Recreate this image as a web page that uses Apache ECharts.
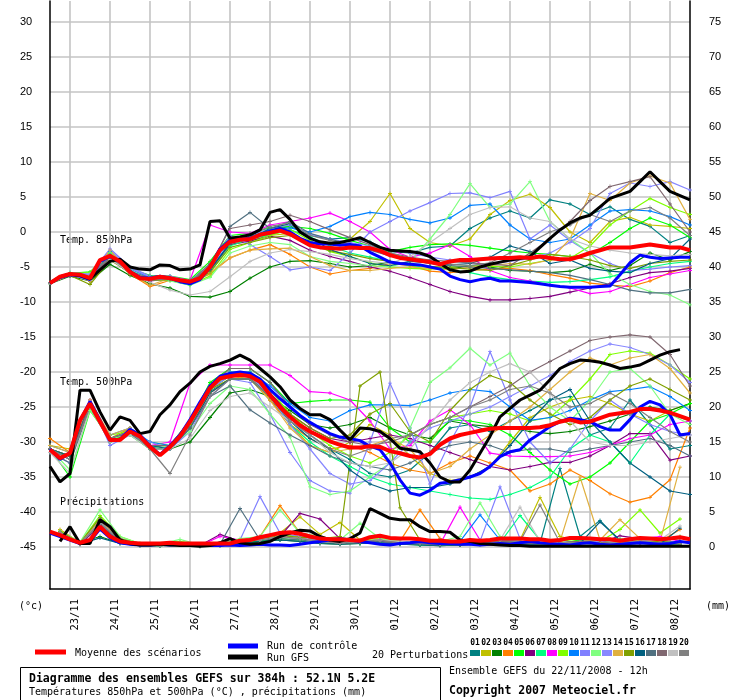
<!DOCTYPE html>
<html><head><meta charset="utf-8">
<script src="https://cdn.jsdelivr.net/npm/echarts@6/dist/echarts.min.js"></script>
<style>html,body{margin:0;padding:0;background:#fff}#c{width:740px;height:700px}</style>
</head><body><div id="c"></div>
<script>
// ---- axis / tick data ----
const DAY_TICKS = [12,36,60,84,108,132,156,180,204,228,252,276,300,324,348,372];
const DAY_LABELS = ['23/11','24/11','25/11','26/11','27/11','28/11','29/11','30/11','01/12','02/12','03/12','04/12','05/12','06/12','07/12','08/12'];
const T_TICKS = [-45,-40,-35,-30,-25,-20,-15,-10,-5,0,5,10,15,20,25,30];
const P_TICKS = [0,5,10,15,20,25,30,35,40,45,50,55,60,65,70,75];
const PERT_NAMES = ['01','02','03','04','05','06','07','08','09','10','11','12','13','14','15','16','17','18','19','20'];
const PERT_COLORS = ['#008080','#c0c000','#008000','#ff8000','#00ff00','#800080','#00ff80','#ff00ff','#80ff00','#0080ff','#8080ff','#80ff80','#8888ff','#e0b040','#80a000','#006080','#507080','#806870','#c0c0c0','#808080'];

// ---- 6-hourly series (hour 0..384) ----
const MEAN_850 = [-7.3,-6.4,-6.0,-6.1,-6.6,-4.0,-3.4,-4.2,-5.7,-6.6,-6.7,-6.4,-6.6,-6.9,-7.1,-6.6,-5.0,-2.6,-1.4,-1.1,-1.0,-0.4,-0.1,0.2,-0.3,-1.1,-1.9,-2.2,-2.3,-2.4,-2.2,-2.3,-2.3,-2.7,-3.3,-3.7,-3.9,-4.1,-4.3,-4.6,-4.2,-4.0,-4.0,-3.9,-3.8,-3.7,-3.7,-3.6,-3.7,-3.5,-3.7,-3.9,-3.9,-3.5,-3.0,-2.6,-2.2,-2.2,-2.2,-2.0,-1.8,-2.0,-2.2,-2.2,-2.6];
const GFS_850 = [-7.3,-6.4,-6.0,-6.2,-6.7,-5.4,-4.2,-3.9,-5.0,-5.3,-5.4,-4.7,-4.8,-5.4,-5.3,-4.7,1.5,1.6,-0.9,-0.7,-0.4,0.3,2.8,3.2,1.8,0.0,-0.9,-1.4,-1.6,-1.5,-1.2,-0.8,-1.5,-2.2,-2.6,-2.7,-2.8,-3.0,-3.5,-4.5,-5.4,-5.7,-5.6,-5.0,-4.6,-4.3,-4.0,-3.8,-3.5,-2.2,-0.9,0.3,1.3,2.0,2.4,3.6,4.8,5.3,5.8,7.2,8.6,7.2,5.8,5.2,4.6];
const CTRL_850 = [-7.3,-6.5,-6.1,-6.3,-6.8,-4.2,-3.5,-4.2,-5.6,-6.5,-6.6,-6.3,-6.6,-7.1,-7.4,-6.8,-5.0,-2.4,-1.2,-1.0,-0.9,-0.4,0.1,0.5,0.0,-0.9,-1.5,-1.7,-1.7,-1.9,-1.8,-2.0,-2.9,-3.6,-4.3,-4.5,-4.6,-4.7,-5.0,-5.3,-6.3,-6.8,-7.1,-6.8,-6.6,-7.0,-7.0,-7.1,-7.2,-7.4,-7.6,-7.8,-7.9,-7.9,-7.9,-7.8,-7.7,-6.1,-4.4,-3.3,-3.6,-3.8,-3.7,-3.6,-3.6];

const MEAN_500 = [-31.1,-32.3,-31.6,-26.9,-24.5,-27.1,-29.7,-29.7,-28.5,-29.2,-30.7,-31.9,-30.7,-29.2,-27.1,-24.7,-22.3,-20.9,-20.6,-20.4,-20.6,-21.4,-23.3,-25.0,-26.4,-27.6,-28.5,-29.2,-29.9,-30.4,-30.8,-30.8,-30.6,-30.7,-31.3,-31.6,-32.0,-32.2,-31.7,-30.4,-29.5,-29.0,-28.7,-28.4,-28.1,-28.0,-28.0,-28.0,-28.0,-27.9,-27.6,-27.1,-26.8,-27.2,-27.1,-26.6,-26.1,-25.9,-25.7,-25.3,-25.3,-25.5,-25.8,-26.3,-26.8];
const GFS_500 = [-33.5,-35.7,-34.5,-22.6,-22.6,-25.7,-28.3,-26.4,-26.9,-28.8,-28.5,-26.1,-24.7,-22.8,-21.6,-20.0,-19.2,-18.8,-18.3,-17.6,-18.3,-19.5,-20.7,-22.1,-24.0,-25.2,-26.1,-26.1,-26.8,-28.3,-29.7,-28.0,-28.1,-28.5,-29.5,-30.9,-31.1,-31.4,-33.0,-35.0,-35.7,-35.7,-34.0,-31.6,-29.2,-26.4,-25.2,-24.0,-23.3,-22.6,-21.1,-19.5,-18.8,-18.3,-18.4,-18.6,-19.0,-19.5,-19.3,-19.0,-18.3,-17.6,-17.1,-16.8,null];
const CTRL_500 = [-31.0,-32.5,-31.5,-27.0,-24.2,-26.9,-29.8,-29.6,-28.2,-29.0,-30.6,-31.8,-30.5,-29.0,-26.8,-24.3,-22.0,-20.6,-20.2,-20.0,-20.2,-21.0,-22.5,-23.8,-25.0,-26.2,-27.2,-28.0,-28.8,-29.3,-29.5,-29.8,-30.6,-31.1,-33.0,-35.4,-37.3,-37.6,-36.9,-35.9,-35.7,-35.4,-35.0,-34.5,-33.5,-32.1,-31.4,-31.1,-29.7,-28.8,-27.8,-27.1,-26.6,-26.8,-27.1,-27.8,-28.3,-28.3,-26.8,-25.0,-24.2,-24.7,-26.1,-29.0,-28.8];

const MEAN_PRECIP = [2.2,1.7,1.1,0.6,1.0,2.9,1.5,0.8,0.6,0.5,0.5,0.5,0.6,0.5,0.5,0.5,0.5,0.5,0.5,0.9,1.0,1.4,1.7,2.0,2.1,1.9,1.5,1.2,1.1,1.1,1.0,0.9,1.4,1.6,1.3,1.2,1.2,1.1,0.9,0.9,0.8,0.8,1.0,0.9,1.0,1.2,1.2,1.2,1.1,1.1,0.9,1.0,1.3,1.3,1.2,1.1,1.1,0.9,1.1,1.3,1.2,1.1,1.2,1.4,1.1];
const GFS_PRECIP = [null,0.8,2.9,0.5,0.5,3.9,2.9,1.0,0.5,0.3,0.3,0.4,0.3,0.2,0.2,0.1,0.2,0.6,1.2,0.6,0.4,0.5,0.8,1.5,2.0,2.4,2.3,1.5,1.0,0.8,1.2,2.0,5.5,4.8,4.1,3.9,3.9,2.9,2.2,2.2,2.1,1.0,0.8,0.5,0.4,0.3,0.2,0.2,0.1,0.1,0.1,0.1,0.1,0.1,0.1,0.1,0.1,0.1,0.1,0.1,0.1,0.1,0.1,0.1,0.1];
const CTRL_PRECIP = [2.0,1.5,1.0,0.5,0.8,2.6,1.3,0.6,0.4,0.3,0.3,0.4,0.3,0.4,0.3,0.2,0.2,0.2,0.3,0.2,0.3,0.4,0.3,0.3,0.2,0.4,0.6,0.8,1.0,1.2,1.0,0.8,0.6,0.4,0.3,0.5,0.6,0.8,0.6,0.5,0.5,0.4,0.4,0.3,0.4,0.5,0.4,0.6,0.8,0.6,0.5,0.4,0.3,0.5,0.6,0.4,0.3,0.4,0.5,0.6,0.5,0.4,0.5,0.8,0.6];

// ---- perturbations, 12-hourly temperatures (hour 0..384) ----
const PERT_850 = [
[-7.3,-6.0,-6.4,-3.6,-5.5,-6.6,-6.5,-7.0,-4.6,-1.0,-0.6,0.3,0.8,-0.5,-1.0,-0.8,-1.4,-2.8,-3.0,-2.2,-2.0,0.5,2.0,3.0,2.0,4.6,4.0,2.5,3.6,1.8,0.8,-1.5,-0.5],
[-7.3,-6.1,-6.8,-3.8,-5.9,-6.8,-6.7,-7.2,-5.5,-1.8,-1.2,-0.5,-0.2,-1.5,-1.8,-1.0,1.5,5.5,0.5,-1.5,-2.0,-1.0,2.5,4.5,5.4,3.5,0.0,-1.5,1.5,2.1,1.0,0.8,0.5],
[-7.4,-6.3,-7.0,-4.6,-6.2,-7.4,-8.0,-9.2,-9.3,-8.5,-6.6,-5.0,-4.2,-4.1,-4.5,-5.0,-4.8,-4.3,-4.7,-5.0,-5.3,-4.8,-5.0,-5.5,-5.6,-5.8,-5.6,-4.6,-5.5,-4.8,-3.0,-4.0,-2.8],
[-7.2,-6.0,-7.0,-3.4,-6.0,-7.8,-6.9,-7.3,-6.0,-3.7,-2.6,-1.8,-3.2,-5.0,-6.0,-5.5,-5.2,-4.5,-4.8,-5.6,-5.8,-5.5,-5.3,-5.2,-5.5,-6.1,-6.6,-7.3,-7.6,-7.8,-7.0,-5.8,-5.0],
[-7.3,-5.9,-5.7,-3.0,-5.3,-6.2,-6.3,-6.8,-4.2,-0.5,-0.2,0.6,0.8,0.5,-0.2,-1.2,-2.0,-2.8,-2.2,-1.8,-1.7,-1.9,-2.3,-2.7,-3.0,-3.2,-3.5,-3.2,-1.5,0.5,2.0,1.0,-0.8],
[-7.3,-6.2,-6.7,-3.5,-5.8,-7.0,-6.7,-7.3,-5.4,-1.8,-1.3,-0.6,-1.2,-2.6,-3.5,-4.2,-5.0,-5.6,-6.5,-7.5,-8.5,-9.2,-9.7,-9.7,-9.5,-9.2,-8.6,-8.0,-7.4,-6.5,-5.8,-5.6,-5.2],
[-7.3,-6.0,-6.5,-3.2,-5.6,-6.8,-6.9,-7.6,-5.8,-2.0,-1.0,-0.4,0.3,-0.7,-2.0,-3.0,-3.6,-4.2,-4.8,-5.0,-5.4,-5.8,-6.4,-6.8,-7.0,-7.2,-7.1,-6.8,-6.4,-5.6,-5.0,-4.5,-4.2],
[-7.3,-6.1,-6.5,-3.4,-5.6,-6.5,-6.4,-6.9,1.0,0.0,-0.2,1.0,1.5,2.0,2.7,1.5,0.0,-2.5,-3.6,-3.0,-1.8,-3.5,-5.5,-6.5,-7.0,-7.6,-8.0,-8.8,-8.5,-7.5,-6.5,-6.0,-5.5],
[-7.3,-5.9,-5.8,-2.8,-5.2,-6.4,-6.6,-7.5,-6.3,-2.5,-1.5,-0.5,0.4,-1.2,-2.8,-3.5,-4.4,-5.0,-5.2,-5.3,-5.0,-4.8,-4.9,-5.0,-4.5,-4.0,-3.8,-2.0,1.0,3.0,4.8,3.5,2.5],
[-7.3,-6.0,-6.3,-2.8,-5.3,-6.5,-6.8,-7.3,-5.3,-1.5,-0.8,0.3,0.6,0.0,0.8,2.2,2.8,2.5,1.8,1.3,2.0,3.8,4.0,1.0,-1.0,-1.5,-1.0,1.0,3.0,3.2,3.0,2.2,1.0],
[-7.3,-5.8,-6.0,-2.4,-5.0,-6.3,-6.3,-7.0,-4.8,-0.5,-1.8,-3.5,-5.4,-5.0,-5.5,-3.0,0.0,1.5,3.0,4.2,5.5,5.6,4.9,5.8,-1.0,1.0,-1.2,-3.0,-4.5,-5.5,-5.3,-5.0,-4.8],
[-7.3,-5.8,-6.2,-3.0,-5.4,-6.8,-7.0,-7.6,-6.5,-3.0,-2.0,-1.5,-1.8,-3.5,-4.2,-4.5,-4.8,-5.0,-4.2,-1.0,2.5,6.9,3.5,4.0,7.2,1.5,-1.0,-3.0,-6.0,-7.5,-8.5,-9.0,-10.4],
[-7.3,-6.0,-6.1,-2.6,-5.2,-6.4,-6.5,-7.2,-5.0,-1.2,-0.5,0.5,1.0,-0.3,-1.0,-1.5,-2.0,-2.5,-3.0,-3.6,-4.0,-4.5,-4.6,-4.2,-3.8,-3.0,-1.5,0.5,5.5,7.0,6.5,7.2,6.0],
[-7.3,-6.1,-6.6,-2.6,-5.9,-7.6,-6.6,-7.1,-5.8,-3.7,-2.6,-2.4,-2.3,-3.5,-4.8,-5.5,-5.5,-5.2,-5.0,-5.2,-5.4,-5.0,-4.8,-4.5,-4.6,-4.0,-1.0,5.5,4.5,7.0,8.0,7.0,1.8],
[-7.3,-6.2,-7.5,-4.0,-5.8,-6.9,-6.8,-7.4,-5.7,-2.2,-1.5,-0.8,-0.5,-1.8,-2.7,-3.2,-3.8,-4.2,-4.6,-4.9,-5.1,-5.3,-5.5,-4.8,-4.0,-3.2,-3.5,-4.0,-4.8,-5.2,-4.5,-4.2,-4.0],
[-7.3,-6.0,-6.4,-3.3,-5.6,-6.7,-6.6,-7.2,-5.4,-1.6,-1.0,0.5,1.2,-0.8,-2.5,-3.5,-4.5,-4.8,-4.2,-4.4,-4.7,-4.5,-3.6,-2.0,-2.8,-4.5,-4.0,-5.2,-5.6,-5.8,-4.5,-3.8,-1.0],
[-7.3,-6.0,-6.7,-3.6,-5.8,-6.6,-6.6,-7.0,-5.2,0.8,2.8,0.5,1.5,-0.2,-1.0,-1.8,-2.6,-3.4,-4.0,-4.5,-4.8,-5.0,-5.2,-5.4,-5.6,-5.8,-6.2,-6.8,-7.5,-8.3,-8.7,-8.7,-8.2],
[-7.3,-6.1,-6.6,-3.7,-5.9,-6.9,-6.7,-7.3,-4.8,0.5,1.0,1.5,2.4,1.5,0.3,-0.8,-1.8,-3.0,-3.6,-4.0,-4.2,-4.4,-4.6,-4.8,-3.0,-1.0,1.5,4.5,6.5,7.2,7.9,4.0,0.0],
[-7.3,-6.1,-6.9,-3.9,-5.8,-7.2,-8.3,-9.0,-8.5,-6.4,-4.2,-3.0,-2.5,-2.8,-3.2,-3.8,-4.2,-4.5,-3.5,-1.5,0.5,2.5,3.5,3.6,2.0,1.5,-1.0,-2.0,-2.6,-3.0,-3.2,-3.4,-3.2],
[-7.3,-6.0,-6.3,-3.5,-5.7,-6.6,-6.6,-7.2,-4.5,-0.8,-0.4,0.8,1.3,-0.5,-1.2,-1.8,-2.4,-3.0,-3.8,-4.2,-4.6,-4.8,-4.4,-3.0,-1.5,0.0,1.0,2.5,1.5,3.0,3.5,2.0,-0.5]
];
const PERT_500 = [
[-31.0,-32.5,-24.8,-29.8,-28.6,-30.8,-31.0,-27.6,-22.8,-21.0,-21.0,-24.0,-27.0,-29.0,-31.0,-32.5,-34.5,-35.0,-34.0,-31.5,-28.0,-27.5,-28.5,-27.0,-25.5,-24.0,-23.5,-29.0,-28.0,-24.0,-27.5,-31.0,-30.5],
[-30.5,-31.0,-24.0,-29.5,-28.0,-30.5,-30.5,-27.0,-22.0,-20.5,-21.0,-23.5,-27.5,-30.5,-31.5,-30.0,-27.5,-29.0,-32.0,-34.5,-35.5,-35.0,-33.5,-30.0,-26.5,-25.0,-24.0,-23.5,-24.5,-26.0,-27.0,-25.5,-24.5],
[-31.5,-32.0,-25.0,-29.8,-28.8,-31.0,-31.0,-30.0,-26.5,-23.0,-22.5,-23.5,-25.5,-27.5,-28.0,-27.5,-26.5,-28.0,-29.0,-29.5,-27.0,-27.5,-27.8,-28.0,-28.5,-28.8,-28.5,-27.8,-27.0,-26.0,-25.0,-25.5,-24.5],
[-29.5,-31.5,-24.5,-30.0,-28.0,-30.5,-30.8,-28.0,-23.0,-21.0,-20.5,-24.0,-27.5,-29.5,-31.0,-30.5,-31.5,-33.0,-34.0,-34.5,-33.0,-32.0,-33.0,-34.0,-37.0,-36.0,-34.0,-35.5,-37.4,-38.6,-37.9,-35.4,-28.0],
[-31.0,-35.0,-25.5,-29.5,-29.0,-31.0,-30.5,-27.0,-21.5,-19.5,-19.5,-21.5,-24.5,-24.2,-24.0,-24.0,-24.3,-28.0,-30.0,-30.0,-26.8,-27.0,-27.5,-29.0,-31.5,-34.0,-36.0,-35.0,-33.0,-30.0,-27.0,-26.0,-24.5],
[-31.0,-32.0,-24.5,-29.5,-28.5,-30.8,-30.5,-27.5,-22.5,-20.5,-20.5,-23.0,-26.0,-28.0,-29.5,-30.0,-29.5,-29.0,-29.5,-30.5,-31.5,-32.5,-33.5,-34.0,-33.5,-32.9,-32.9,-32.0,-30.5,-28.8,-28.8,-32.6,-32.0],
[-31.0,-32.5,-25.0,-30.0,-29.0,-30.5,-31.0,-27.5,-22.5,-20.5,-20.5,-23.5,-27.5,-30.0,-32.0,-33.5,-35.0,-36.0,-36.5,-37.0,-37.5,-38.0,-38.2,-37.5,-36.5,-35.0,-31.0,-29.0,-30.0,-33.0,-29.0,-26.0,-27.0],
[-31.0,-32.0,-24.0,-29.5,-28.5,-30.5,-30.0,-21.6,-19.0,-19.0,-19.0,-19.0,-20.5,-22.8,-23.0,-24.0,-27.0,-31.0,-30.5,-27.0,-25.4,-27.5,-31.6,-32.0,-32.1,-32.1,-32.0,-31.5,-30.5,-29.5,-29.0,-27.5,-27.0],
[-31.0,-32.0,-25.0,-29.0,-28.5,-30.0,-30.5,-27.5,-22.0,-20.0,-20.0,-22.5,-26.0,-28.5,-30.5,-32.0,-33.0,-31.5,-29.0,-27.5,-26.5,-26.0,-25.5,-26.0,-27.0,-26.5,-24.0,-21.0,-17.5,-17.0,-17.3,-19.0,-21.0],
[-30.5,-31.5,-24.5,-29.0,-28.0,-30.0,-30.5,-27.0,-22.0,-20.0,-20.0,-22.0,-24.5,-26.5,-27.0,-25.5,-24.7,-24.7,-24.8,-24.0,-23.0,-22.5,-22.8,-25.0,-26.9,-26.5,-25.5,-24.0,-22.8,-22.5,-22.1,-23.5,-25.5],
[-31.5,-33.0,-24.0,-30.5,-29.0,-30.0,-31.0,-28.5,-23.5,-21.0,-21.5,-26.0,-31.5,-35.5,-37.0,-37.3,-30.0,-21.6,-28.0,-36.0,-30.0,-25.0,-17.1,-24.0,-30.0,-33.0,-31.0,-27.0,-24.0,-26.0,-27.5,-28.5,-29.0],
[-31.0,-34.0,-25.5,-29.5,-29.0,-31.0,-30.5,-28.5,-24.5,-22.0,-22.5,-26.0,-29.3,-36.4,-37.5,-37.0,-35.0,-33.0,-28.0,-21.5,-19.4,-16.6,-19.0,-17.3,-22.0,-25.0,-27.0,-24.0,-20.0,-19.5,-22.0,-26.0,-27.5],
[-31.0,-32.5,-24.5,-29.5,-28.5,-30.5,-30.5,-27.5,-22.5,-20.5,-20.5,-23.5,-27.5,-31.0,-34.5,-36.0,-35.5,-33.0,-30.0,-28.0,-27.0,-26.0,-25.0,-23.5,-22.0,-20.5,-18.5,-17.0,-16.0,-16.5,-17.5,-19.0,-21.5],
[-30.5,-31.5,-24.0,-29.0,-28.0,-30.5,-30.5,-27.5,-23.0,-21.0,-21.0,-24.0,-28.0,-30.5,-31.5,-31.0,-30.5,-29.5,-31.0,-34.5,-33.5,-31.0,-29.0,-27.0,-25.0,-22.5,-20.0,-18.0,-19.0,-18.0,-17.5,-19.5,-23.0],
[-31.0,-32.0,-24.5,-29.5,-28.5,-30.5,-30.5,-27.5,-22.5,-21.0,-21.0,-23.5,-26.0,-28.0,-29.5,-29.0,-26.0,-24.5,-28.5,-30.0,-25.5,-22.5,-20.5,-21.5,-24.0,-26.0,-27.5,-26.5,-24.0,-22.0,-21.0,-22.5,-24.0],
[-31.0,-32.0,-24.5,-29.5,-28.5,-30.5,-31.0,-28.0,-23.0,-21.0,-21.0,-23.5,-27.0,-29.5,-31.0,-34.0,-36.0,-37.0,-36.5,-36.5,-36.0,-35.0,-33.5,-30.5,-27.0,-24.0,-22.5,-27.0,-30.0,-33.0,-35.0,-37.0,-37.5],
[-31.5,-33.0,-25.0,-30.0,-28.8,-31.0,-31.0,-28.0,-23.5,-22.0,-25.4,-27.3,-29.0,-30.5,-32.0,-33.0,-33.5,-34.0,-33.0,-31.5,-30.5,-30.0,-30.5,-31.5,-31.0,-31.0,-31.5,-31.0,-30.5,-30.0,-29.5,-30.5,-32.0],
[-31.0,-32.5,-24.5,-29.5,-28.5,-30.5,-30.5,-27.0,-22.0,-19.5,-19.5,-21.5,-25.0,-27.5,-29.0,-30.0,-30.5,-30.0,-29.0,-27.5,-26.5,-25.0,-23.5,-22.0,-20.0,-18.5,-17.0,-15.5,-15.0,-14.7,-15.0,-17.5,-22.0],
[-31.5,-34.5,-25.0,-30.0,-29.0,-31.0,-31.0,-29.5,-25.5,-23.5,-23.0,-25.0,-27.0,-29.0,-31.5,-33.0,-33.5,-33.0,-31.0,-27.5,-24.0,-21.5,-20.0,-18.8,-20.0,-23.0,-27.0,-30.0,-30.5,-30.5,-30.0,-29.5,-29.0],
[-31.0,-32.5,-25.0,-29.5,-28.5,-31.0,-34.5,-29.0,-23.5,-21.0,-21.0,-23.5,-27.0,-29.0,-31.0,-32.0,-31.0,-29.5,-29.0,-27.5,-26.5,-25.0,-24.0,-22.5,-22.0,-23.0,-25.0,-24.5,-23.0,-24.5,-26.5,-28.5,-30.0]
];
// ---- perturbations, 12-hourly precipitation (hour 6..378) ----
const PERT_PRECIP = [
[2.0,0.5,3.5,0.8,0.3,0.2,0.4,0.2,0.3,0.8,1.0,1.5,1.2,0.8,0.5,0.6,1.0,0.5,0.4,0.3,0.5,0.6,0.8,0.6,0.5,11.2,1.5,3.8,0.8,0.5,1.0,1.2],
[2.2,0.4,4.0,1.2,0.4,0.3,0.5,0.2,0.4,0.6,1.2,2.0,4.3,1.8,3.5,1.0,0.8,0.6,0.5,0.4,0.3,0.5,0.8,1.0,7.1,1.5,0.8,0.6,0.5,0.8,0.6,0.5],
[1.8,0.6,1.5,0.5,0.2,0.2,0.3,0.1,0.2,0.5,0.8,1.0,0.8,0.5,0.4,0.5,0.6,0.4,0.3,0.2,0.3,0.4,0.5,0.4,0.3,0.4,0.6,0.5,0.3,0.2,0.3,0.4],
[2.5,0.6,3.8,1.0,0.3,0.3,0.5,0.2,0.3,1.0,1.5,5.9,2.0,1.5,1.0,0.8,1.0,0.8,5.3,1.2,0.6,0.5,0.8,0.6,0.5,0.4,0.6,0.5,0.8,1.0,0.8,2.5],
[2.0,0.5,4.2,1.0,0.4,0.3,0.6,0.2,0.3,0.6,0.8,1.2,1.0,0.8,0.6,0.5,0.8,0.5,0.4,0.3,0.4,0.5,0.6,0.8,0.6,0.5,1.0,0.8,0.6,0.5,0.8,1.5],
[1.8,0.4,3.0,0.8,0.3,0.3,0.4,0.2,1.8,0.8,1.0,1.5,4.8,4.0,1.2,0.8,0.6,0.5,0.4,0.3,0.4,0.6,0.5,0.4,0.6,0.5,0.8,0.6,1.6,1.2,0.6,0.5],
[2.2,0.5,3.5,1.0,0.3,0.2,0.5,0.2,0.4,0.8,1.0,1.5,1.2,0.8,0.6,0.8,0.6,0.5,0.3,0.4,0.8,1.0,0.6,4.5,1.0,0.6,0.5,0.4,0.6,0.8,0.5,0.4],
[2.0,0.5,3.8,1.2,0.3,0.3,0.5,0.2,1.5,1.0,1.5,2.0,1.5,1.0,0.8,1.0,0.8,0.6,0.5,0.4,5.7,1.0,0.8,0.6,0.5,0.6,0.8,1.0,0.8,1.2,1.5,0.8],
[2.4,0.6,4.5,1.5,0.5,0.4,0.8,0.3,0.5,1.0,1.2,1.8,1.5,1.2,0.8,1.0,1.2,0.8,0.6,0.5,0.6,0.8,1.0,0.8,0.6,0.8,1.2,0.8,2.5,5.3,2.0,4.0],
[2.1,0.5,3.6,1.0,0.4,0.3,0.5,0.2,0.4,0.8,1.0,1.5,1.2,0.8,0.6,0.8,1.0,0.6,0.5,1.0,0.8,4.6,1.0,0.6,0.5,0.6,0.8,0.6,0.5,0.8,1.0,0.6],
[2.2,0.6,4.0,1.2,0.4,0.3,0.6,0.2,0.5,1.0,7.2,2.0,1.5,1.0,0.6,0.8,1.0,0.8,0.6,0.5,0.6,0.8,8.6,1.2,0.8,0.6,0.8,0.6,0.5,0.6,0.8,0.6],
[2.3,0.7,5.3,1.5,0.5,0.4,1.1,0.3,0.5,1.2,1.5,5.3,2.0,1.5,1.0,3.4,1.2,0.8,0.6,0.8,1.5,6.3,1.5,0.8,0.6,0.5,0.8,1.0,1.2,0.8,0.6,0.5],
[2.1,0.5,3.8,1.1,0.4,0.3,0.5,0.2,0.4,0.8,1.2,1.5,1.2,0.8,0.6,0.8,1.0,0.6,0.5,0.4,0.6,0.8,1.0,0.8,0.6,0.5,0.6,0.8,0.5,0.4,0.6,0.5],
[2.0,0.5,3.9,1.0,0.4,0.3,0.5,0.2,0.3,0.8,1.0,1.5,1.2,0.8,0.6,0.8,1.0,0.6,0.5,0.4,0.6,0.8,0.6,0.5,0.4,0.8,10.0,1.0,3.9,1.2,0.8,11.4],
[2.2,0.6,4.2,1.2,0.4,0.3,0.5,0.2,0.4,0.8,1.2,1.6,1.4,1.2,1.5,23.0,25.0,5.6,1.0,0.6,0.5,0.6,0.8,0.6,0.5,0.6,0.8,0.6,0.5,0.6,0.8,0.6],
[1.8,0.4,1.3,0.5,0.2,0.2,0.3,0.1,0.2,0.5,0.8,1.0,0.8,0.5,0.4,0.5,0.6,0.4,0.3,0.2,0.3,0.4,0.5,0.4,0.3,0.4,0.5,3.6,1.0,0.5,0.4,2.7],
[2.0,0.5,3.2,0.9,0.3,0.2,0.4,0.2,0.4,5.5,1.0,1.2,1.0,0.8,0.5,0.6,0.8,0.5,0.4,0.3,0.4,0.5,0.6,0.5,0.4,0.5,0.6,0.5,0.4,0.5,0.6,0.5],
[2.1,0.5,3.6,1.0,0.4,0.3,0.5,0.2,0.3,0.8,1.0,1.5,1.2,0.8,0.6,0.8,1.0,0.6,0.5,0.4,0.5,0.6,0.8,0.6,0.5,0.6,0.8,0.6,0.5,0.6,0.5,0.4],
[2.0,0.5,3.5,1.0,0.3,0.3,0.5,0.2,0.3,0.8,1.0,1.5,1.2,0.8,0.6,0.8,1.0,0.8,0.6,0.5,0.6,0.8,1.0,5.7,0.8,0.6,0.5,0.4,0.6,0.8,1.0,3.0],
[2.0,0.5,3.4,1.0,0.3,0.3,0.5,0.2,0.3,0.8,1.0,1.5,1.2,0.8,0.6,0.8,1.0,0.6,0.5,0.4,0.6,0.8,1.0,0.8,6.0,0.6,0.5,0.4,0.6,0.8,0.6,0.5]
];

// ---- build ----
const MONO = '"DejaVu Sans Mono", monospace';
const PLUS = 'path://M2,0H3V2H5V3H3V5H2V3H0V2H2Z';
function pairs(vals, step, start) { return vals.map((v, i) => [start + i * step, v]); }
function pertSeries(vals, color, yIdx, step, start) {
  return { type: 'line', data: pairs(vals, step, start), yAxisIndex: yIdx, symbol: PLUS, symbolSize: 4,
    showSymbol: true, itemStyle: { color: color }, lineStyle: { color: color, width: 1.2 }, silent: true, z: 2 };
}
function mainSeries(vals, color, width, yIdx, z) {
  return { type: 'line', data: pairs(vals, 6, 0), yAxisIndex: yIdx, showSymbol: false, symbol: 'none',
    lineStyle: { color: color, width: width }, silent: true, z: z };
}
const series = [];
PERT_COLORS.forEach((c, k) => {
  series.push(pertSeries(PERT_850[k], c, 0, 12, 0));
  series.push(pertSeries(PERT_500[k], c, 0, 12, 0));
  series.push(pertSeries(PERT_PRECIP[k], c, 1, 12, 6));
});
[[CTRL_850, CTRL_500, CTRL_PRECIP, '#0000ff', 3, 5], [GFS_850, GFS_500, GFS_PRECIP, '#000000', 3, 6], [MEAN_850, MEAN_500, MEAN_PRECIP, '#ff0000', 4, 7]].forEach(r => {
  series.push(mainSeries(r[0], r[3], r[4], 0, r[5]));
  series.push(mainSeries(r[1], r[3], r[4], 0, r[5]));
  series.push(mainSeries(r[2], r[3], r[4], 1, r[5]));
});

const graphic = [];
function txt(t, x, y, font, align) { graphic.push({ type: 'text', silent: true, style: { text: t, x: x, y: y, font: font, fill: '#000', align: align || 'left', verticalAlign: 'middle' } }); }
function ln(x1, y1, x2, y2, c, w) { graphic.push({ type: 'line', silent: true, shape: { x1, y1, x2, y2 }, style: { stroke: c, lineWidth: w } }); }
txt('Temp. 850hPa', 60, 240, '10px ' + MONO);
txt('Temp. 500hPa', 60, 382, '10px ' + MONO);
txt('Précipitations', 60, 502, '10px ' + MONO);
txt('(°c)', 19, 606, '10px ' + MONO);
txt('(mm)', 706, 606, '10px ' + MONO);
ln(35, 652, 66, 652, '#ff0000', 5);
txt('Moyenne des scénarios', 75, 653, '10px ' + MONO);
ln(228, 646, 258, 646, '#0000ff', 5);
ln(228, 657, 258, 657, '#000000', 5);
txt('Run de contrôle', 267, 646, '10px ' + MONO);
txt('Run GFS', 267, 658, '10px ' + MONO);
txt('20 Perturbations', 372, 655, '10px ' + MONO);
PERT_COLORS.forEach((c, k) => {
  graphic.push({ type: 'rect', silent: true, shape: { x: 470 + k * 11, y: 650, width: 10, height: 6 }, style: { fill: c } });
  txt(PERT_NAMES[k], 475 + k * 11, 643, 'bold 8px ' + MONO, 'center');
});
graphic.push({ type: 'rect', silent: true, shape: { x: 20.5, y: 667.5, width: 420, height: 34 }, style: { fill: 'none', stroke: '#000', lineWidth: 1 } });
txt('Diagramme des ensembles GEFS sur 384h : 52.1N 5.2E', 29, 679, 'bold 11.5px ' + MONO);
txt('Températures 850hPa et 500hPa (°C) , précipitations (mm)', 29, 692, '10px ' + MONO);
txt('Ensemble GEFS du 22/11/2008 - 12h', 449, 671, '10px ' + MONO);
txt('Copyright 2007 Meteociel.fr', 449, 691, 'bold 11.5px ' + MONO);

const chart = echarts.init(document.getElementById('c'), null, { renderer: 'canvas' });
chart.setOption({
  animation: false,
  backgroundColor: '#ffffff',
  grid: { left: 50, right: 50, top: 1, bottom: 111, show: false },
  xAxis: {
    type: 'value', min: 0, max: 384,
    axisLine: { show: true, onZero: false, lineStyle: { color: '#000', width: 1.5 } },
    axisTick: { show: false, customValues: DAY_TICKS },
    axisLabel: { customValues: DAY_TICKS, rotate: 90, margin: 10, verticalAlign: 'top',
      formatter: v => DAY_LABELS[DAY_TICKS.indexOf(v)] || '', color: '#000', fontFamily: MONO, fontSize: 10.5 },
    splitLine: { show: true, lineStyle: { color: '#c4c4c4', width: 1.6 } }
  },
  yAxis: [
    { type: 'value', min: -51, max: 33, position: 'left',
      axisLine: { show: true, onZero: false, lineStyle: { color: '#000', width: 1.5 } },
      axisTick: { show: false, customValues: T_TICKS },
      axisLabel: { customValues: T_TICKS, align: 'left', margin: 30, color: '#000', fontFamily: 'Liberation Sans, Arial, sans-serif', fontSize: 11 },
      splitLine: { show: true, lineStyle: { color: '#c4c4c4', width: 1.6 } } },
    { type: 'value', min: -6, max: 78, position: 'right',
      axisLine: { show: true, onZero: false, lineStyle: { color: '#000', width: 1.5 } },
      axisTick: { show: false, customValues: P_TICKS },
      axisLabel: { customValues: P_TICKS, margin: 19, color: '#000', fontFamily: 'Liberation Sans, Arial, sans-serif', fontSize: 11 },
      splitLine: { show: false } }
  ],
  series: series,
  graphic: graphic
});
</script>
</body></html>
